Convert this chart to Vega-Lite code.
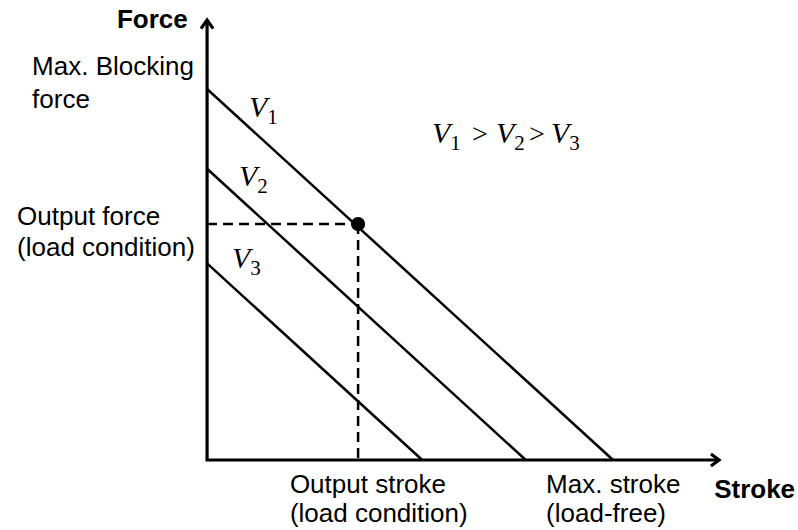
{
  "$schema": "https://vega.github.io/schema/vega-lite/v6.json",
  "width": 798,
  "height": 530,
  "padding": 0,
  "autosize": {"type": "fit", "contains": "padding"},
  "background": "white",
  "config": {"view": {"stroke": null}},
  "datasets": {
    "curves": [
      {"series": "V1", "o": 1, "stroke": 0, "force": 100},
      {"series": "V1", "o": 2, "stroke": 100, "force": 0},
      {"series": "V2", "o": 1, "stroke": 0, "force": 78.5},
      {"series": "V2", "o": 2, "stroke": 78.5, "force": 0},
      {"series": "V3", "o": 1, "stroke": 0, "force": 53},
      {"series": "V3", "o": 2, "stroke": 53, "force": 0}
    ],
    "axes": [
      {"id": "axes", "o": 1, "stroke": 0, "force": 118.6},
      {"id": "axes", "o": 2, "stroke": 0, "force": 0},
      {"id": "axes", "o": 3, "stroke": 126.1, "force": 0},
      {"id": "yarrow", "o": 1, "stroke": -1.5, "force": 116.3},
      {"id": "yarrow", "o": 2, "stroke": 0, "force": 118.6},
      {"id": "yarrow", "o": 3, "stroke": 1.5, "force": 116.3},
      {"id": "xarrow", "o": 1, "stroke": 124.1, "force": 1.6},
      {"id": "xarrow", "o": 2, "stroke": 126.1, "force": 0},
      {"id": "xarrow", "o": 3, "stroke": 124.1, "force": -1.6}
    ],
    "guides": [
      {"id": "h", "o": 1, "stroke": 0, "force": 63.6},
      {"id": "h", "o": 2, "stroke": 37.2, "force": 63.6},
      {"id": "v", "o": 1, "stroke": 37.2, "force": 63.6},
      {"id": "v", "o": 2, "stroke": 37.2, "force": 0}
    ],
    "point": [{"stroke": 37.2, "force": 63.6}],
    "titles": [
      {"label": "Force", "stroke": -22.2, "force": 118.6},
      {"label": "Stroke", "stroke": 124.9, "force": -8.1}
    ],
    "notes": [
      {"label": "Max. Blocking", "stroke": -43.1, "force": 105.9},
      {"label": "force", "stroke": -43.1, "force": 97.0},
      {"label": "Output force", "stroke": -46.8, "force": 65.5},
      {"label": "(load condition)", "stroke": -46.8, "force": 57.1},
      {"label": "Output stroke", "stroke": 20.4, "force": -6.7},
      {"label": "(load condition)", "stroke": 20.4, "force": -14.6},
      {"label": "Max. stroke", "stroke": 83.5, "force": -6.7},
      {"label": "(load-free)", "stroke": 83.5, "force": -14.6}
    ],
    "symbols": [
      {"label": "V", "part": "var", "stroke": 10.34, "force": 92.45},
      {"label": "1", "part": "sub", "stroke": 14.8, "force": 90.57},
      {"label": "V", "part": "var", "stroke": 7.88, "force": 73.85},
      {"label": "2", "part": "sub", "stroke": 12.34, "force": 71.97},
      {"label": "V", "part": "var", "stroke": 6.16, "force": 51.75},
      {"label": "3", "part": "sub", "stroke": 10.62, "force": 49.87},
      {"label": "V", "part": "var", "stroke": 55.42, "force": 85.44},
      {"label": "1", "part": "sub", "stroke": 59.88, "force": 83.56},
      {"label": ">", "part": "op", "stroke": 65.27, "force": 85.44},
      {"label": "V", "part": "var", "stroke": 71.18, "force": 85.44},
      {"label": "2", "part": "sub", "stroke": 75.64, "force": 83.56},
      {"label": ">", "part": "op", "stroke": 79.3, "force": 85.44},
      {"label": "V", "part": "var", "stroke": 84.73, "force": 85.44},
      {"label": "3", "part": "sub", "stroke": 89.19, "force": 83.56}
    ]
  },
  "encoding": {
    "x": {"field": "stroke", "type": "quantitative", "scale": {"domain": [-51, 145.55], "nice": false, "zero": false}, "axis": null},
    "y": {"field": "force", "type": "quantitative", "scale": {"domain": [-18.87, 124.0], "nice": false, "zero": false}, "axis": null}
  },
  "layer": [
    {
      "data": {"name": "curves"},
      "mark": {"type": "line", "color": "black", "strokeWidth": 2.5},
      "encoding": {"detail": {"field": "series"}, "order": {"field": "o"}}
    },
    {
      "data": {"name": "guides"},
      "mark": {"type": "line", "color": "black", "strokeWidth": 2.5, "strokeDash": [10, 6]},
      "encoding": {"detail": {"field": "id"}, "order": {"field": "o"}}
    },
    {
      "data": {"name": "axes"},
      "mark": {"type": "line", "color": "black", "strokeWidth": 3.2, "strokeJoin": "miter"},
      "encoding": {"detail": {"field": "id"}, "order": {"field": "o"}}
    },
    {
      "data": {"name": "point"},
      "mark": {"type": "circle", "color": "black", "opacity": 1, "size": 200}
    },
    {
      "data": {"name": "titles"},
      "mark": {"type": "text", "align": "left", "baseline": "middle", "font": "Liberation Sans", "fontWeight": "bold", "fontSize": 26, "color": "black"},
      "encoding": {"text": {"field": "label"}}
    },
    {
      "data": {"name": "notes"},
      "mark": {"type": "text", "align": "left", "baseline": "middle", "font": "Liberation Sans", "fontSize": 26, "color": "black"},
      "encoding": {"text": {"field": "label"}}
    },
    {
      "data": {"name": "symbols"},
      "transform": [{"filter": "datum.part === 'var'"}],
      "mark": {"type": "text", "align": "left", "baseline": "alphabetic", "font": "Liberation Serif", "fontStyle": "italic", "fontSize": 30, "color": "black"},
      "encoding": {"text": {"field": "label"}}
    },
    {
      "data": {"name": "symbols"},
      "transform": [{"filter": "datum.part === 'sub'"}],
      "mark": {"type": "text", "align": "left", "baseline": "alphabetic", "font": "Liberation Serif", "fontSize": 21, "color": "black"},
      "encoding": {"text": {"field": "label"}}
    },
    {
      "data": {"name": "symbols"},
      "transform": [{"filter": "datum.part === 'op'"}],
      "mark": {"type": "text", "align": "left", "baseline": "alphabetic", "font": "Liberation Serif", "fontSize": 28, "color": "black"},
      "encoding": {"text": {"field": "label"}}
    }
  ]
}
